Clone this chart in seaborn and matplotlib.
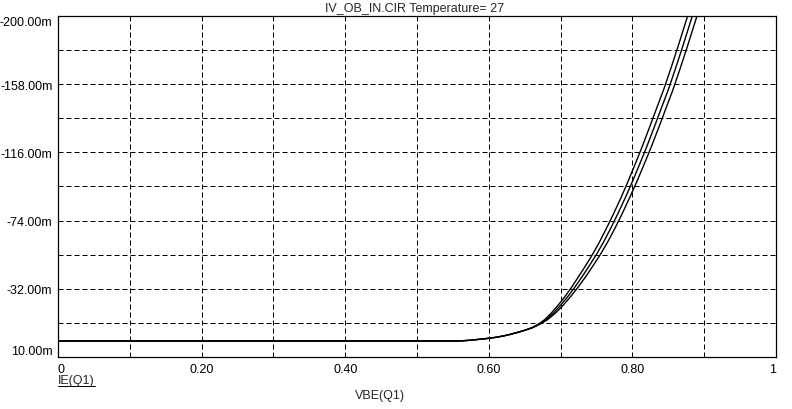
import numpy as np
import pandas as pd
import matplotlib
matplotlib.use("Agg")
import matplotlib.pyplot as plt
import seaborn as sns
from matplotlib.lines import Line2D
from matplotlib.ticker import FixedLocator

# ============================================================
# DATA (IE in mA)
# ============================================================
ie_levels = [0, 0, -0.1, -0.35, -0.75, -1.2, -1.7, -2.3, -3.1, -4.1, -5.3,
             -6.6, -8.1, -10.3, -13.2, -17.2, -22.0, -27.3, -33.2, -39.6,
             -46.3, -53.3, -61.0, -69.5, -78.5, -88.0, -98.0, -108.6, -119.5,
             -131.0, -142.8, -154.5, -167.5, -181.0, -195.0, -209.0]

vbe_mid = [0.0, 0.55, 0.56, 0.57, 0.58, 0.59, 0.60, 0.61, 0.62, 0.63, 0.64,
           0.65, 0.66, 0.67, 0.68, 0.69, 0.70, 0.71, 0.72, 0.73, 0.74, 0.75,
           0.76, 0.77, 0.78, 0.79, 0.80, 0.81, 0.82, 0.83, 0.84, 0.85, 0.86,
           0.87, 0.88, 0.89]

vbe_low = [0.0, 0.55, 0.56, 0.57, 0.58, 0.59, 0.60, 0.61, 0.62, 0.63, 0.64,
           0.65, 0.6595, 0.669, 0.678, 0.687, 0.6965, 0.706, 0.7155, 0.725,
           0.7348, 0.7445, 0.7543, 0.7641, 0.774, 0.784, 0.7938, 0.8037,
           0.8136, 0.8235, 0.8335, 0.8435, 0.8535, 0.8635, 0.8735, 0.8835]

vbe_high = [0.0, 0.55, 0.56, 0.57, 0.58, 0.59, 0.60, 0.61, 0.62, 0.63, 0.64,
            0.65, 0.6605, 0.671, 0.682, 0.693, 0.7035, 0.714, 0.7245, 0.735,
            0.7452, 0.7555, 0.7657, 0.7759, 0.786, 0.796, 0.8062, 0.8163,
            0.8264, 0.8365, 0.8465, 0.8565, 0.8665, 0.8765, 0.8865, 0.8965]

y_ticks = [-200, -158, -116, -74, -32, 10]
y_minor = [-179, -137, -95, -53, -11]
y_tick_labels = ["-200.00m", "-158.00m", "-116.00m", "-74.00m", "-32.00m", "10.00m"]
x_ticks = [0, 0.2, 0.4, 0.6, 0.8, 1.0]
x_minor = [0.1, 0.3, 0.5, 0.7, 0.9]
x_tick_labels = ["0", "0.20", "0.40", "0.60", "0.80", "1"]

frames = []
for name, vbe in [("low", vbe_low), ("mid", vbe_mid), ("high", vbe_high)]:
    frames.append(pd.DataFrame({"VBE": vbe, "IE": ie_levels, "curve": name}))
df = pd.concat(frames, ignore_index=True)

# ============================================================
# PLOT
# ============================================================
sns.set_style("white")
plt.rcParams['font.family'] = ['Liberation Sans', 'DejaVu Sans']
plt.rcParams['font.size'] = 9

fig = plt.figure(figsize=(7.92, 4.10), dpi=100)
ax = fig.add_axes([58 / 792, 1 - 358.3 / 410, (776 - 58) / 792, (358.3 - 16.7) / 410])

sns.lineplot(data=df, x="VBE", y="IE", units="curve", estimator=None,
             color="black", linewidth=1.0, sort=False, ax=ax, legend=False)

ax.set_xlim(0, 1)
ax.set_ylim(10, -200)

ax.xaxis.set_major_locator(FixedLocator(x_ticks))
ax.xaxis.set_minor_locator(FixedLocator(x_minor))
ax.yaxis.set_major_locator(FixedLocator(y_ticks))
ax.yaxis.set_minor_locator(FixedLocator(y_minor))
ax.set_xticklabels(x_tick_labels)
ax.set_yticklabels(y_tick_labels)
ax.tick_params(which="both", length=0, colors="black", labelsize=9)
ax.tick_params(axis="x", pad=4)
ax.tick_params(axis="y", pad=4)

xl = ax.get_xticklabels()
xl[0].set_horizontalalignment("left")
xl[-1].set_horizontalalignment("right")
yl = ax.get_yticklabels()
yl[0].set_verticalalignment("top")
yl[-1].set_verticalalignment("bottom")

ax.grid(True, which="both", color="black", linestyle=(0, (5, 3)), linewidth=0.72)
ax.set_axisbelow(True)
for sp in ax.spines.values():
    sp.set_visible(True)
    sp.set_color("black")
    sp.set_linewidth(0.9)

ax.set_xlabel("")
ax.set_ylabel("")

fig.text(415 / 792, 1 - 9 / 410, "IV_OB_IN.CIR Temperature= 27", ha="center", va="center", fontsize=9)
fig.text(380 / 792, 1 - 396 / 410, "VBE(Q1)", ha="center", va="center", fontsize=9)
ie_txt = fig.text(58 / 792, 1 - 381 / 410, "IE(Q1)", ha="left", va="center", fontsize=9)

# underline for the trace name
fig.canvas.draw()
bb = ie_txt.get_window_extent()
uy = 1 - 386.5 / 410
fig.add_artist(Line2D([bb.x0 / 792, bb.x1 / 792], [uy, uy], color="black", linewidth=0.72,
                      transform=fig.transFigure))

fig.savefig("out.png", dpi=100, facecolor="white")
